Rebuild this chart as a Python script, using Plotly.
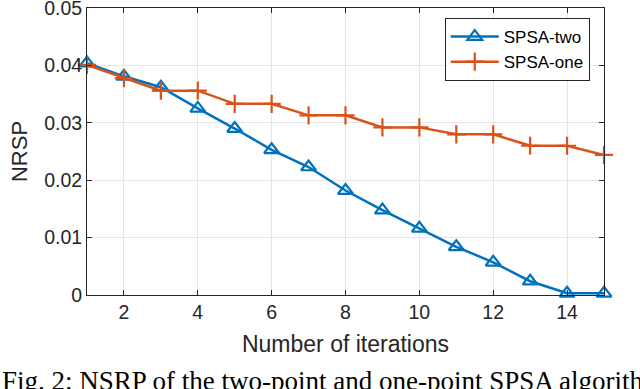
import plotly.graph_objects as go

iterations = list(range(1, 16))
spsa_two = [0.0404, 0.0381, 0.0362, 0.0325, 0.0290, 0.0253, 0.0223, 0.0182,
            0.0148, 0.0116, 0.0084, 0.0057, 0.0024, 0.0003, 0.0003]
spsa_one = [0.0401, 0.0378, 0.0356, 0.0356, 0.0333, 0.0333, 0.0313, 0.0313,
            0.0292, 0.0292, 0.0280, 0.0280, 0.0260, 0.0260, 0.0244]
x_ticks = [2, 4, 6, 8, 10, 12, 14]
y_ticks = [0, 0.01, 0.02, 0.03, 0.04, 0.05]
y_tick_text = ["0", "0.01", "0.02", "0.03", "0.04", "0.05"]

blue = "#0072BD"
orange = "#D95319"
frame = "#262626"

fig = go.Figure()
fig.add_trace(go.Scatter(
    x=iterations, y=spsa_two, name="SPSA-two", mode="lines+markers",
    line=dict(color=blue, width=2.5),
    marker=dict(symbol="triangle-up-open", size=13, color=blue, line=dict(width=2.2, color=blue)),
    cliponaxis=False))
fig.add_trace(go.Scatter(
    x=iterations, y=spsa_one, name="SPSA-one", mode="lines+markers",
    line=dict(color=orange, width=2.5),
    marker=dict(symbol="cross-thin-open", size=13, color=orange, line=dict(width=2.2, color=orange)),
    cliponaxis=False))

axis_common = dict(
    showline=True, linecolor=frame, linewidth=1, mirror="ticks",
    ticks="inside", ticklen=5, tickcolor=frame,
    showgrid=True, gridcolor="#E6E6E6", gridwidth=1, zeroline=False,
    automargin=False, ticklabeloverflow="allow",
    tickfont=dict(family="Liberation Sans, Arial", size=19.5, color=frame),
)

fig.update_layout(
    width=640, height=389,
    margin=dict(l=87, r=36, t=8, b=94),
    paper_bgcolor="white", plot_bgcolor="white",
    font=dict(family="Liberation Sans, Arial", color=frame),
    xaxis=dict(range=[1, 15], tickvals=x_ticks,
               title=dict(text="Number of iterations", font=dict(size=23), standoff=13),
               **axis_common),
    yaxis=dict(range=[0, 0.05], tickvals=y_ticks, ticktext=y_tick_text,
               title=dict(text="NRSP", font=dict(size=22), standoff=10),
               **axis_common),
    legend=dict(x=0.692, y=0.965, xanchor="left", yanchor="top",
                bgcolor="white", bordercolor=frame, borderwidth=1,
                font=dict(size=17, color="black"), tracegroupgap=0,
                itemwidth=48),
    showlegend=True,
)

fig.add_annotation(
    text="Fig. 2: NSRP of the two-point and one-point SPSA algorithms.",
    xref="paper", yref="paper", x=-0.168, y=-0.241,
    xanchor="left", yanchor="top", showarrow=False,
    font=dict(family="Liberation Serif, Times New Roman", size=27, color="black"))

fig.write_html("out.html", config={"displayModeBar": False},
               post_script="document.body.style.margin='0';")
